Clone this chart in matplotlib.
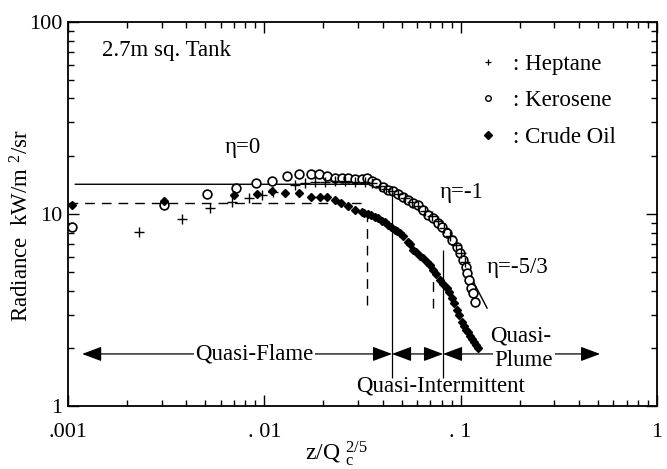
import matplotlib.pyplot as plt
from matplotlib.lines import Line2D
from matplotlib.ticker import FixedLocator, FixedFormatter, LogLocator, NullFormatter

plt.rcParams['font.family'] = ['Liberation Serif', 'DejaVu Serif']
plt.rcParams['mathtext.fontset'] = 'custom'
plt.rcParams['mathtext.rm'] = 'Liberation Serif'
plt.rcParams['mathtext.it'] = 'Liberation Serif:italic'

# Heptane (+)
hep_x = [0.00230, 0.00380, 0.00529, 0.00687, 0.00836, 0.00970, 0.0111, 0.0143, 0.0161,
         0.0181, 0.0204, 0.0229, 0.0258, 0.0290, 0.0326, 0.0354, 0.0389, 0.0417, 0.0447,
         0.0480, 0.0521, 0.0565, 0.0607, 0.0659, 0.0715, 0.0767, 0.0823, 0.0883, 0.0948,
         0.1005, 0.1053]
hep_y = [8.09, 9.42, 10.7, 11.5, 12.2, 12.6, 13.1, 14.2, 14.6,
         14.7, 14.7, 14.9, 14.9, 14.7, 14.7, 14.5, 14.0, 13.5, 13.2,
         12.7, 12.1, 11.5, 11.0, 10.4, 9.76, 9.19, 8.46, 7.68, 6.89,
         6.26, 5.62]

# Kerosene (o)
ker_x = [0.00105, 0.00310, 0.00509, 0.00715, 0.00907, 0.0110, 0.0130, 0.0151, 0.0172,
         0.0190, 0.0209, 0.0229, 0.0248, 0.0268, 0.0290, 0.0313, 0.0332, 0.0352, 0.0371,
         0.0401, 0.0428, 0.0454, 0.0481, 0.0511, 0.0542, 0.0574, 0.0609, 0.0646, 0.0685,
         0.0726, 0.0770, 0.0801, 0.0849, 0.0901, 0.0955, 0.0993, 0.1032, 0.1065, 0.1082,
         0.1107, 0.1125, 0.1161, 0.1184]
ker_y = [8.59, 11.2, 12.7, 13.7, 14.5, 14.9, 15.8, 16.2, 16.2,
         16.2, 15.8, 15.5, 15.5, 15.5, 15.2, 15.2, 15.5, 14.9, 14.5,
         13.8, 13.4, 13.2, 12.8, 12.3, 11.8, 11.4, 11.1, 10.5, 9.88,
         9.50, 8.95, 8.59, 7.93, 7.32, 6.75, 6.24, 5.76, 5.32, 4.91,
         4.53, 4.10, 3.86, 3.49]

# Crude Oil (filled diamond)
crude_x = [0.00105, 0.00310, 0.00703, 0.00915, 0.0110, 0.0128, 0.0151, 0.0172, 0.0191,
           0.0209, 0.0229, 0.0245, 0.0268, 0.0290, 0.0313, 0.0339, 0.0366, 0.0396, 0.0428,
           0.0463, 0.0491, 0.0536, 0.0574, 0.0621, 0.0672, 0.0726, 0.0782, 0.0849, 0.0901,
           0.0955, 0.1013, 0.1065, 0.1116, 0.1171, 0.1231,
           0.0322, 0.0350, 0.0380, 0.0412, 0.0442, 0.0474, 0.0509, 0.0552, 0.0593, 0.0644,
           0.0698, 0.0749, 0.0813, 0.0873, 0.0926, 0.0982, 0.1041, 0.1091, 0.1143, 0.1198]
crude_y = [11.1, 11.7, 12.5, 12.8, 13.2, 12.9, 12.9, 12.3, 12.3,
           12.3, 11.8, 11.4, 11.0, 10.5, 10.2, 10.0, 9.68, 9.23, 8.76,
           8.26, 7.93, 7.15, 6.49, 6.04, 5.64, 5.11, 4.53, 4.12, 3.65,
           3.16, 2.75, 2.49, 2.31, 2.15, 2.00,
           10.1, 9.88, 9.53, 9.08, 8.56, 8.15, 7.68, 6.98, 6.34, 5.90,
           5.42, 4.87, 4.32, 3.92, 3.44, 2.98, 2.61, 2.43, 2.23, 2.08]

# fitted curves
fit_x = [0.00109, 0.0345, 0.0412, 0.0491, 0.0586, 0.0698, 0.0813, 0.0937, 0.1053, 0.1184, 0.1363]
fit_y = [14.3, 14.3, 13.8, 12.86, 11.55, 10.12, 8.87, 7.32, 5.76, 4.27, 3.24]
dash_x = [0.001, 0.0332]
dash_y = [11.4, 11.4]

# region markers
dash_vx = [0.0332, 0.0719]
dash_vtop = [10.4, 4.99]
dash_vbot = [3.36, 3.24]
solid_vx = [0.0447, 0.0813]
solid_vtop = [13.0, 6.49]
solid_vbot = [1.40, 1.40]
arrow_y = 1.87
flame_lim = [0.00118, 0.0447]
inter_lim = [0.0447, 0.0813]
plume_lim = [0.0813, 0.513]

fs = 16.5

fig = plt.figure(figsize=(6.67, 4.69), dpi=100)
ax = fig.add_axes([0.102, 0.134, 0.883, 0.819])
ax.set_xscale('log')
ax.set_yscale('log')
ax.set_xlim(0.001, 1)
ax.set_ylim(1, 100)

ax.plot(fit_x, fit_y, color='black', lw=1.0, zorder=2)
ax.plot(dash_x, dash_y, color='black', lw=1.0, ls=(0, (7, 5)), zorder=2)
ax.vlines(dash_vx, dash_vbot, dash_vtop, colors='black', lw=1.0, linestyles=(0, (7, 5)))
ax.vlines(solid_vx, solid_vbot, solid_vtop, colors='black', lw=0.9)

ax.plot(ker_x, ker_y, ls='none', marker='o', ms=6.3, mfc='white', mec='black', mew=1.2, zorder=3)
ax.plot(hep_x, hep_y, ls='none', marker='+', ms=7, mec='black', mew=1.0, zorder=4)
ax.plot(crude_x, crude_y, ls='none', marker='D', ms=4.3, mfc='black', mec='black', zorder=4)

# arrows
arr = dict(arrowstyle='<|-|>,head_length=0.8,head_width=0.3', color='black', lw=0.9,
           mutation_scale=15, shrinkA=0, shrinkB=0)
for lim in (flame_lim, inter_lim, plume_lim):
    ax.annotate('', xy=(lim[0], arrow_y), xytext=(lim[1], arrow_y), arrowprops=arr)

ax.text(0.00886, arrow_y, 'Quasi-Flame', fontsize=fs, ha='center', va='center',
        bbox=dict(facecolor='white', edgecolor='none', pad=1))
ax.text(0.0786, 1.27, 'Quasi-Intermittent', fontsize=fs, ha='center', va='center')
ax.text(0.210, 1.72, 'Plume', fontsize=fs, ha='center', va='center',
        bbox=dict(facecolor='white', edgecolor='none', pad=1))
ax.text(0.201, 2.33, 'Quasi-', fontsize=fs, ha='center', va='center')

ax.text(0.00779, 22.3, 'η=0', fontsize=fs, ha='center', va='center')
ax.text(0.1016, 12.9, 'η=-1', fontsize=fs, ha='center', va='center')
ax.text(0.1936, 5.30, 'η=-5/3', fontsize=fs, ha='center', va='center')
ax.text(0.058, 0.927, '2.7m sq. Tank', fontsize=fs, ha='left', va='center', transform=ax.transAxes)

handles = [Line2D([], [], ls='none', marker='+', ms=5, mec='black', mew=0.9),
           Line2D([], [], ls='none', marker='o', ms=4, mfc='white', mec='black', mew=1.0),
           Line2D([], [], ls='none', marker='D', ms=4, mfc='black', mec='black')]
ax.legend(handles, [': Heptane', ': Kerosene', ': Crude Oil'], loc='upper right',
          bbox_to_anchor=(0.93, 0.918), frameon=False, fontsize=fs, handlelength=0.6,
          handletextpad=0.8, labelspacing=0.68, borderpad=0, borderaxespad=0)

ax.xaxis.set_major_locator(FixedLocator([0.001, 0.01, 0.1, 1]))
ax.xaxis.set_major_formatter(FixedFormatter(['.001', '. 01', '. 1', '1']))
ax.xaxis.set_minor_locator(LogLocator(base=10, subs=range(2, 10)))
ax.xaxis.set_minor_formatter(NullFormatter())
ax.yaxis.set_major_locator(FixedLocator([1, 10, 100]))
ax.yaxis.set_major_formatter(FixedFormatter(['1', '10', '100']))
ax.yaxis.set_minor_locator(LogLocator(base=10, subs=range(2, 10)))
ax.yaxis.set_minor_formatter(NullFormatter())
ax.tick_params(which='both', direction='in', top=True, right=True, labelsize=16, width=1.0)
ax.tick_params(which='major', length=8)
ax.tick_params(which='minor', length=4)
ax.tick_params(axis='x', which='major', pad=12)
ax.tick_params(axis='y', which='major', pad=4)
for s in ax.spines.values():
    s.set_linewidth(1.3)

ax.set_ylabel('Radiance  kW/m $^{2}$/sr', fontsize=fs)
ax.yaxis.set_label_coords(-0.058, 0.47)
ax.set_xlabel(r'z/Q $_{\rm c}^{2/5}$', fontsize=17)
ax.xaxis.set_label_coords(0.455, -0.085)

fig.savefig('out.png', dpi=100)
